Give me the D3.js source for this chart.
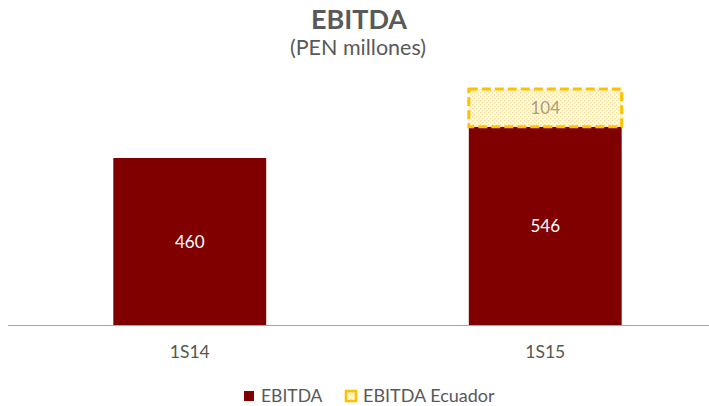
<!DOCTYPE html>
<html><head><meta charset="utf-8">
<script src="https://cdn.jsdelivr.net/npm/d3@7"></script>
<style>body{margin:0;background:#fff;}svg{display:block;font-family:Lato,"Open Sans",sans-serif;}</style>
</head><body>
<script>
const categories = ["1S14", "1S15"];
const ebitda = [460, 546];
const ebitdaEcuador = [0, 104];
const seriesNames = ["EBITDA", "EBITDA Ecuador"];

const W = 709, H = 406;
const svg = d3.select("body").append("svg").attr("width", W).attr("height", H);

const defs = svg.append("defs");
const pat = defs.append("pattern").attr("id", "dots").attr("width", 4).attr("height", 4).attr("patternUnits", "userSpaceOnUse");
pat.append("rect").attr("width", 4).attr("height", 4).attr("fill", "#fffdf2");
pat.append("rect").attr("x", 0).attr("y", 0).attr("width", 1.5).attr("height", 1.5).attr("fill", "#ffe08a");
pat.append("rect").attr("x", 2).attr("y", 2).attr("width", 1.5).attr("height", 1.5).attr("fill", "#ffe08a");

const baseY = 325;
const y = d3.scaleLinear().domain([0, 460]).range([baseY, 158]);
const x = d3.scaleBand().domain(categories).range([12, 723]).paddingInner(0.57).paddingOuter(0.285);

svg.append("text").attr("x", 359).attr("y", 29).attr("text-anchor", "middle")
  .attr("font-size", 27).attr("font-weight", "bold").attr("fill", "#595959").text("EBITDA");
svg.append("text").attr("x", 358).attr("y", 55).attr("text-anchor", "middle")
  .attr("font-size", 21.5).attr("fill", "#595959").text("(PEN millones)");

const g = svg.append("g");
categories.forEach((c, i) => {
  g.append("rect").attr("x", x(c)).attr("y", y(ebitda[i])).attr("width", x.bandwidth())
    .attr("height", y(0) - y(ebitda[i])).attr("fill", "#800000");
  g.append("text").attr("x", x(c) + x.bandwidth() / 2).attr("y", (y(ebitda[i]) + y(0)) / 2 + 6)
    .attr("text-anchor", "middle").attr("font-size", 17).attr("fill", "#fff").text(ebitda[i]);
  if (ebitdaEcuador[i] > 0) {
    const top = y(ebitda[i] + ebitdaEcuador[i]), bot = y(ebitda[i]);
    g.append("rect").attr("x", x(c)).attr("y", top).attr("width", x.bandwidth())
      .attr("height", bot - top).attr("fill", "url(#dots)")
      .attr("stroke", "#ffc000").attr("stroke-width", 3).attr("stroke-dasharray", "9,4");
    g.append("text").attr("x", x(c) + x.bandwidth() / 2).attr("y", (top + bot) / 2 + 6)
      .attr("text-anchor", "middle").attr("font-size", 17).attr("fill", "#a59f80").text(ebitdaEcuador[i]);
  }
});

const axis = svg.append("g").attr("transform", `translate(0,${baseY})`)
  .call(d3.axisBottom(x).tickSize(0).tickPadding(21));
axis.select(".domain").attr("stroke", "#a6a6a6").attr("d", `M8,0.5H709`);
axis.selectAll("text").attr("font-size", 17.5).attr("fill", "#57574a").attr("font-family", "Lato,sans-serif");

const leg = svg.append("g");
leg.append("rect").attr("x", 244).attr("y", 391).attr("width", 10).attr("height", 10).attr("fill", "#800000");
leg.append("text").attr("x", 261).attr("y", 402).attr("font-size", 17.5).attr("fill", "#595959").text(seriesNames[0]);
leg.append("rect").attr("x", 346).attr("y", 391).attr("width", 10).attr("height", 10)
  .attr("fill", "url(#dots)").attr("stroke", "#ffc000").attr("stroke-width", 2.5);
leg.append("text").attr("x", 363).attr("y", 402).attr("font-size", 18).attr("fill", "#595959").text(seriesNames[1]);
</script>
</body></html>
